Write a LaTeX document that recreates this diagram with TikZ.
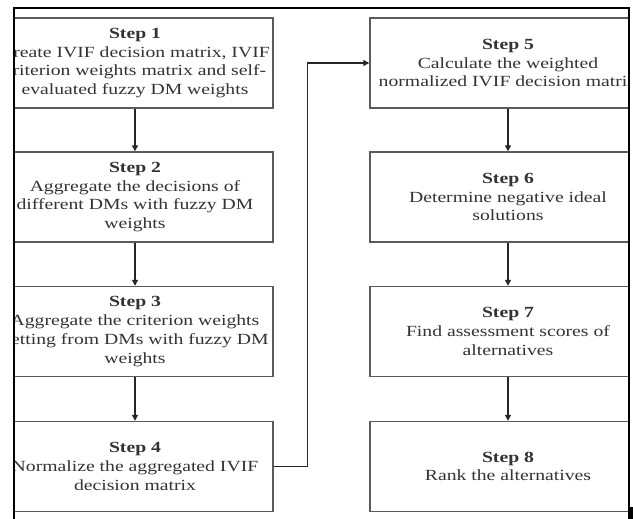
\documentclass[tikz,border=0pt]{standalone}
\usepackage{fontspec}
\setmainfont[FakeStretch=1.27]{Liberation Serif}
\usetikzlibrary{arrows.meta}
\definecolor{boxgray}{HTML}{5A5A5A}
\definecolor{txtgray}{HTML}{333333}
\tikzset{
  stepbox/.style={draw=boxgray, line width=1.4pt, minimum width=276pt, minimum height=90pt,
    inner sep=0pt, align=center, text=txtgray,
    font=\fontsize{15.5pt}{18.8pt}\selectfont},
  arr/.style={draw=black!85, line width=1.4pt, -{Triangle[length=6pt,width=6pt]}},
  frameline/.style={draw=black, line width=1.5pt}
}
\begin{document}
\begin{tikzpicture}[x=1pt,y=-1pt]
\useasboundingbox (0,0) rectangle (633,519);
\fill[white] (0,0) rectangle (633,519);
\begin{scope}
\clip (14,8) rectangle (629,530);
\node[stepbox] (s1) at (135,63) {\textbf{Step 1}\\Create IVIF decision matrix, IVIF\\criterion weights matrix and self-\\evaluated fuzzy DM weights};
\node[stepbox] (s2) at (135,197) {\textbf{Step 2}\\Aggregate the decisions of\\different DMs with fuzzy DM\\weights};
\node[stepbox] (s3) at (135,331.5) {\textbf{Step 3}\\Aggregate the criterion weights\\getting from DMs with fuzzy DM\\weights};
\node[stepbox] (s4) at (135,466.5) {\textbf{Step 4}\\Normalize the aggregated IVIF\\decision matrix};
\node[stepbox] (s5) at (508,63) {\textbf{Step 5}\\Calculate the weighted\\normalized IVIF decision matrix};
\node[stepbox] (s6) at (508,197) {\textbf{Step 6}\\Determine negative ideal\\solutions};
\node[stepbox] (s7) at (508,331.5) {\textbf{Step 7}\\Find assessment scores of\\alternatives};
\node[stepbox] (s8) at (508,466.5) {\textbf{Step 8}\\Rank the alternatives};
\end{scope}
\draw[arr] (s1) -- (s2);
\draw[arr] (s2) -- (s3);
\draw[arr] (s3) -- (s4);
\draw[arr] (s4.east) -- ++(34,0) |- (s5.west);
\draw[arr] (s5) -- (s6);
\draw[arr] (s6) -- (s7);
\draw[arr] (s7) -- (s8);
\coordinate (ftl) at (14,8);
\coordinate (ftr) at (629,8);
\coordinate (fbl) at (14,519);
\coordinate (fbr) at (629,519);
\draw[frameline] (fbl) -- (ftl) -- (ftr) -- (fbr);
\fill[black] (628,507) rectangle (633,519);
\end{tikzpicture}
\end{document}
